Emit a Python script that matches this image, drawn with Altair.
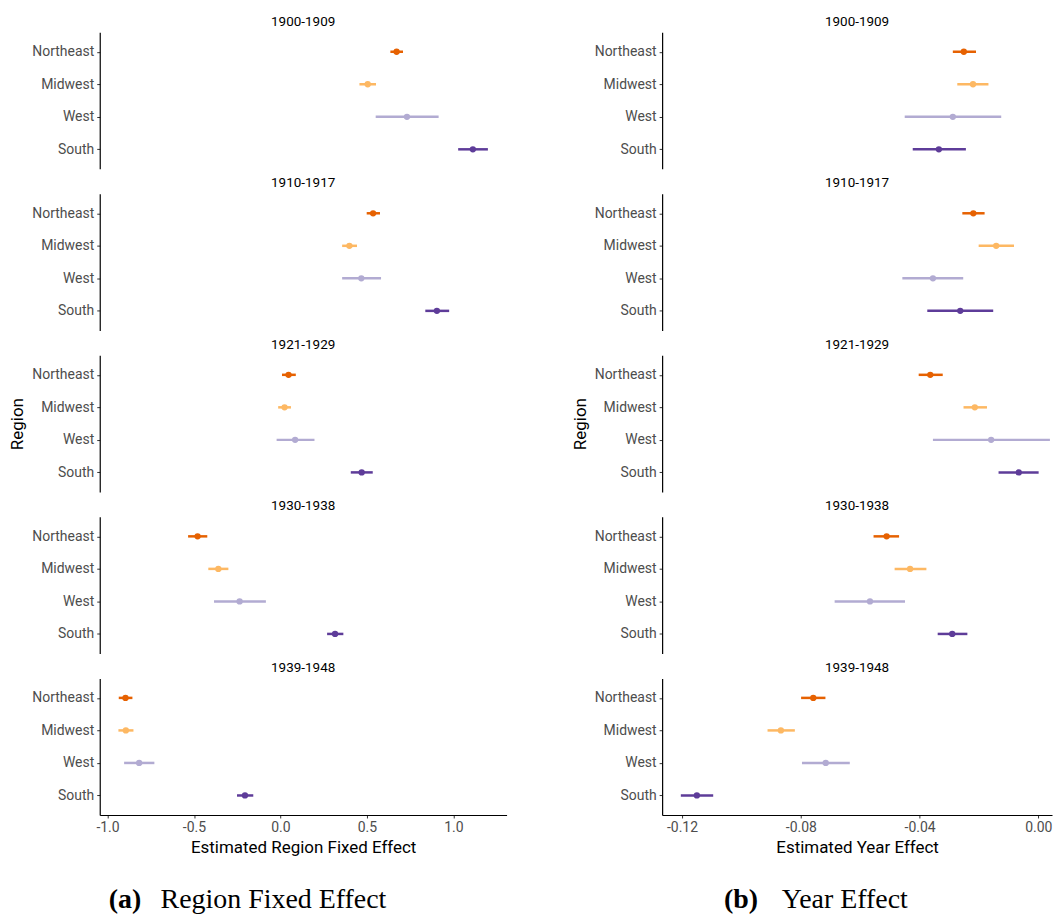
import altair as alt
import pandas as pd

regions = ["Northeast", "Midwest", "West", "South"]
periods = ["1900-1909", "1910-1917", "1921-1929", "1930-1938", "1939-1948"]
colors = ["#e66101", "#fdb863", "#b2abd2", "#5e3c99"]

# Panel (a): Region fixed effects, rows = periods, columns = regions
fe_est = [
    [0.672, 0.505, 0.732, 1.113],
    [0.536, 0.399, 0.468, 0.905],
    [0.047, 0.024, 0.085, 0.470],
    [-0.479, -0.359, -0.236, 0.316],
    [-0.896, -0.894, -0.817, -0.205],
]
fe_lo = [
    [0.636, 0.457, 0.551, 1.028],
    [0.499, 0.357, 0.357, 0.838],
    [0.009, -0.013, -0.022, 0.407],
    [-0.534, -0.417, -0.384, 0.270],
    [-0.935, -0.937, -0.904, -0.251],
]
fe_hi = [
    [0.709, 0.553, 0.915, 1.200],
    [0.576, 0.443, 0.582, 0.976],
    [0.089, 0.061, 0.197, 0.534],
    [-0.423, -0.301, -0.084, 0.364],
    [-0.856, -0.850, -0.729, -0.157],
]

# Panel (b): Year effects
ye_est = [
    [-0.0251, -0.0220, -0.0288, -0.0335],
    [-0.0219, -0.0142, -0.0355, -0.0263],
    [-0.0364, -0.0214, -0.0159, -0.0066],
    [-0.0511, -0.0432, -0.0567, -0.0290],
    [-0.0758, -0.0867, -0.0716, -0.1150],
]
ye_lo = [
    [-0.0288, -0.0273, -0.0450, -0.0423],
    [-0.0256, -0.0201, -0.0458, -0.0374],
    [-0.0403, -0.0252, -0.0355, -0.0134],
    [-0.0555, -0.0484, -0.0686, -0.0339],
    [-0.0799, -0.0912, -0.0796, -0.1204],
]
ye_hi = [
    [-0.0210, -0.0168, -0.0125, -0.0244],
    [-0.0181, -0.0082, -0.0253, -0.0152],
    [-0.0322, -0.0173, 0.0039, 0.0001],
    [-0.0469, -0.0377, -0.0449, -0.0239],
    [-0.0717, -0.0820, -0.0635, -0.1095],
]

fe_ticks = [-1.0, -0.5, 0.0, 0.5, 1.0]
ye_ticks = [-0.12, -0.08, -0.04, 0.00]


def make_df(est, lo, hi):
    rows = []
    for i, p in enumerate(periods):
        for j, r in enumerate(regions):
            rows.append({"Period": p, "Region": r, "est": est[i][j], "lo": lo[i][j], "hi": hi[i][j]})
    return pd.DataFrame(rows)


def column(df, xdomain, ticks, fmt, xtitle, width, tag, name, tag_x, name_x):
    panels = []
    for k, p in enumerate(periods):
        bottom = k == len(periods) - 1
        xaxis = (
            alt.Axis(values=ticks, format=fmt, labelFlush=False, title=xtitle,
                     labelExpr="replace(datum.label, '\u2212', '-')")
            if bottom else None
        )
        xscale = alt.Scale(domain=xdomain, nice=False, zero=False)
        y = alt.Y("Region:N", sort=regions,
                  scale=alt.Scale(type="point", padding=0.6, domain=regions),
                  axis=alt.Axis(title="Region", titleOpacity=1 if k == 2 else 0))
        color = alt.Color("Region:N", scale=alt.Scale(domain=regions, range=colors), legend=None)
        base = alt.Chart(df).transform_filter(alt.datum.Period == p)
        rules = base.mark_rule(strokeWidth=2.5).encode(
            x=alt.X("lo:Q", scale=xscale, axis=xaxis),
            x2="hi:Q", y=y, color=color)
        pts = base.mark_circle(size=40, opacity=1).encode(
            x=alt.X("est:Q", scale=xscale, axis=xaxis), y=y, color=color)
        panels.append(alt.layer(rules, pts).properties(width=width, height=137, title=p))
    cap_df = pd.DataFrame({"tag": [tag], "name": [name]})
    cap_base = alt.Chart(cap_df)
    cap = alt.layer(
        cap_base.mark_text(align="left", baseline="middle", font="Liberation Serif",
                           fontSize=28, fontWeight="bold", color="black").encode(
            text="tag:N", x=alt.value(tag_x), y=alt.value(37)),
        cap_base.mark_text(align="left", baseline="middle", font="Liberation Serif",
                           fontSize=28, color="black").encode(
            text="name:N", x=alt.value(name_x), y=alt.value(37)),
    ).properties(width=width, height=36)
    return alt.vconcat(*panels, cap, spacing=7)


fe_df = make_df(fe_est, fe_lo, fe_hi)
ye_df = make_df(ye_est, ye_lo, ye_hi)

left = column(fe_df, [-1.045, 1.308], fe_ticks, ".1f", "Estimated Region Fixed Effect", 408,
              "(a)", "Region Fixed Effect", 9, 61)
right = column(ye_df, [-0.1267, 0.0046], ye_ticks, ".2f", "Estimated Year Effect", 391,
               "(b)", "Year Effect", 62, 120)

chart = alt.hconcat(left, right, spacing=64).properties(
    padding={"left": 0, "right": 1, "top": 5, "bottom": 0}
).configure_view(stroke=None).configure_axis(
    grid=False, domainColor="black", domainWidth=1.2, tickColor="#333333", tickSize=3,
    labelColor="#4d4d4d", labelFont="Roboto", labelFontSize=14, labelPadding=3,
    titleFont="Roboto", titleFontSize=17, titleFontWeight="normal", titleColor="black",
    titlePadding=5,
).configure_title(
    font="Roboto", fontSize=13.5, fontWeight="normal", color="black", anchor="middle", offset=4
)

chart.save("out.html", embed_options={"renderer": "svg", "actions": False})
